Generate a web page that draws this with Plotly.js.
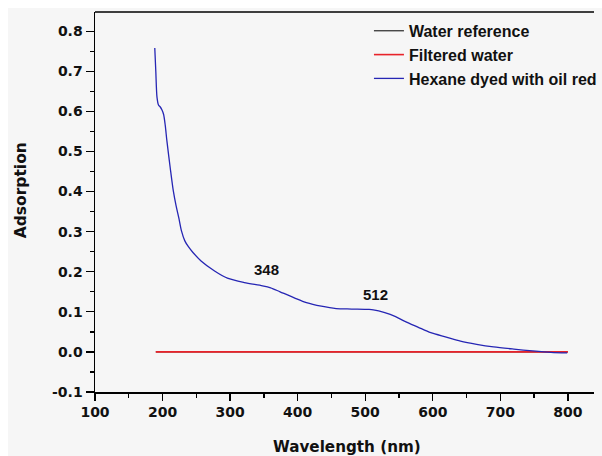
<!DOCTYPE html>
<html>
<head>
<meta charset="utf-8">
<script src="https://cdn.plot.ly/plotly-3.0.1.min.js"></script>
<style>
html,body{margin:0;padding:0;background:#ffffff;overflow:hidden;}
#chart{position:absolute;left:8px;top:8px;width:594px;height:448px;}
</style>
</head>
<body>
<div id="chart"></div>
<script>
// Series data
const seriesNames = ["Water reference", "Filtered water", "Hexane dyed with oil red"];
const waterX = [190, 300, 400, 500, 600, 700, 800];
const waterY = [0, 0, 0, 0, 0, 0, 0];
const filteredX = [190, 300, 400, 500, 600, 700, 800];
const filteredY = [0, 0, 0, 0, 0, 0, 0];
const hexaneX = [188.5, 190, 191.8, 194, 196.7, 199, 201.5, 204, 206.4, 211.3, 216, 220, 224, 228, 233, 238, 245, 257, 277, 296, 321, 348, 360, 374, 395, 413, 435, 457, 480, 505, 512, 529, 545, 558, 578, 597, 620, 641, 665, 690, 720, 748, 775, 799];
const hexaneY = [0.758, 0.70, 0.635, 0.616, 0.611, 0.604, 0.593, 0.565, 0.527, 0.46, 0.401, 0.365, 0.335, 0.302, 0.277, 0.263, 0.248, 0.227, 0.202, 0.184, 0.173, 0.165, 0.160, 0.150, 0.135, 0.123, 0.114, 0.108, 0.107, 0.106, 0.105, 0.098, 0.088, 0.077, 0.062, 0.048, 0.037, 0.027, 0.019, 0.0125, 0.007, 0.0025, -0.001, -0.0025];
const peakLabels = ["348", "512"];
const peakX = [354.6, 515.3];
const peakY = [0.205, 0.143];
const xTickVals = [100, 200, 300, 400, 500, 600, 700, 800];
const xTickText = ["100", "200", "300", "400", "500", "600", "700", "800"];
const yTickVals = [-0.1, 0.0, 0.1, 0.2, 0.3, 0.4, 0.5, 0.6, 0.7, 0.8];
const yTickText = ["-0.1", "0.0", "0.1", "0.2", "0.3", "0.4", "0.5", "0.6", "0.7", "0.8"];

const FONT = "'Liberation Sans', Arial, sans-serif";
const WIDE = "'DejaVu Sans', sans-serif";
const bold = s => "<b>" + s + "</b>";

const traces = [
  {x: waterX, y: waterY, name: bold(seriesNames[0]), mode: "lines", legendgroup: "a",
   line: {color: "#000000", width: 1}},
  {x: filteredX, y: filteredY, name: bold(seriesNames[1]), mode: "lines", legendgroup: "b",
   line: {color: "#e8232a", width: 1.6}},
  {x: hexaneX, y: hexaneY, name: bold(seriesNames[2]), mode: "lines", legendgroup: "c",
   line: {color: "#2626b4", width: 1.3, shape: "spline", smoothing: 0.8}}
];

const annotations = peakLabels.map((t, i) => ({
  x: peakX[i], y: peakY[i], xref: "x", yref: "y", text: bold(t),
  showarrow: false, font: {family: FONT, size: 15, color: "#111"}
}));
annotations.push({
  xref: "paper", yref: "paper", x: (351.5 - 95) / 507, y: -0.145, yanchor: "middle",
  text: bold("Wavelength (nm)"), showarrow: false,
  font: {family: WIDE, size: 15.2, color: "#111"}
});
annotations.push({
  xref: "paper", yref: "paper", x: -0.149, y: 0.53, xanchor: "center", yanchor: "middle",
  text: bold("Adsorption"), textangle: -90, showarrow: false,
  font: {family: WIDE, size: 15.5, color: "#111"}
});

const layout = {
  width: 594, height: 448,
  margin: {l: 87, r: 0, t: 4, b: 64},
  paper_bgcolor: "#f6f6f6",
  plot_bgcolor: "#f6f6f6",
  showlegend: true,
  legend: {
    x: 0.549, y: 0.995, xanchor: "left", yanchor: "top",
    bgcolor: "rgba(0,0,0,0)", borderwidth: 0,
    font: {family: FONT, size: 16, color: "#111"},
    tracegroupgap: 0, itemwidth: 30
  },
  xaxis: {
    range: [100, 838.7],
    tickmode: "array", tickvals: xTickVals, ticktext: xTickText.map(bold),
    ticks: "outside", ticklen: 7, tickwidth: 1.3, tickcolor: "#000",
    minor: {dtick: 50, ticks: "outside", ticklen: 4, tickwidth: 1.3, tickcolor: "#000"},
    showline: true, linecolor: "#000", linewidth: 1.5,
    showgrid: false, zeroline: false,
    tickfont: {family: WIDE, size: 14, color: "#111"}
  },
  yaxis: {
    range: [-0.1, 0.848],
    tickmode: "array", tickvals: yTickVals, ticktext: yTickText.map(bold),
    ticks: "outside", ticklen: 8, tickwidth: 1.3, tickcolor: "#000",
    minor: {dtick: 0.05, ticks: "outside", ticklen: 4, tickwidth: 1.3, tickcolor: "#000"},
    showline: true, linecolor: "#000", linewidth: 1.5,
    showgrid: false, zeroline: false,
    tickfont: {family: WIDE, size: 14, color: "#111"}
  },
  shapes: [{type: "line", xref: "paper", yref: "paper", x0: 0, x1: 1, y0: 1, y1: 1,
            line: {color: "#000", width: 1.5}}],
  annotations: annotations
};

Plotly.newPlot("chart", traces, layout, {displayModeBar: false, staticPlot: true});
</script>
</body>
</html>
